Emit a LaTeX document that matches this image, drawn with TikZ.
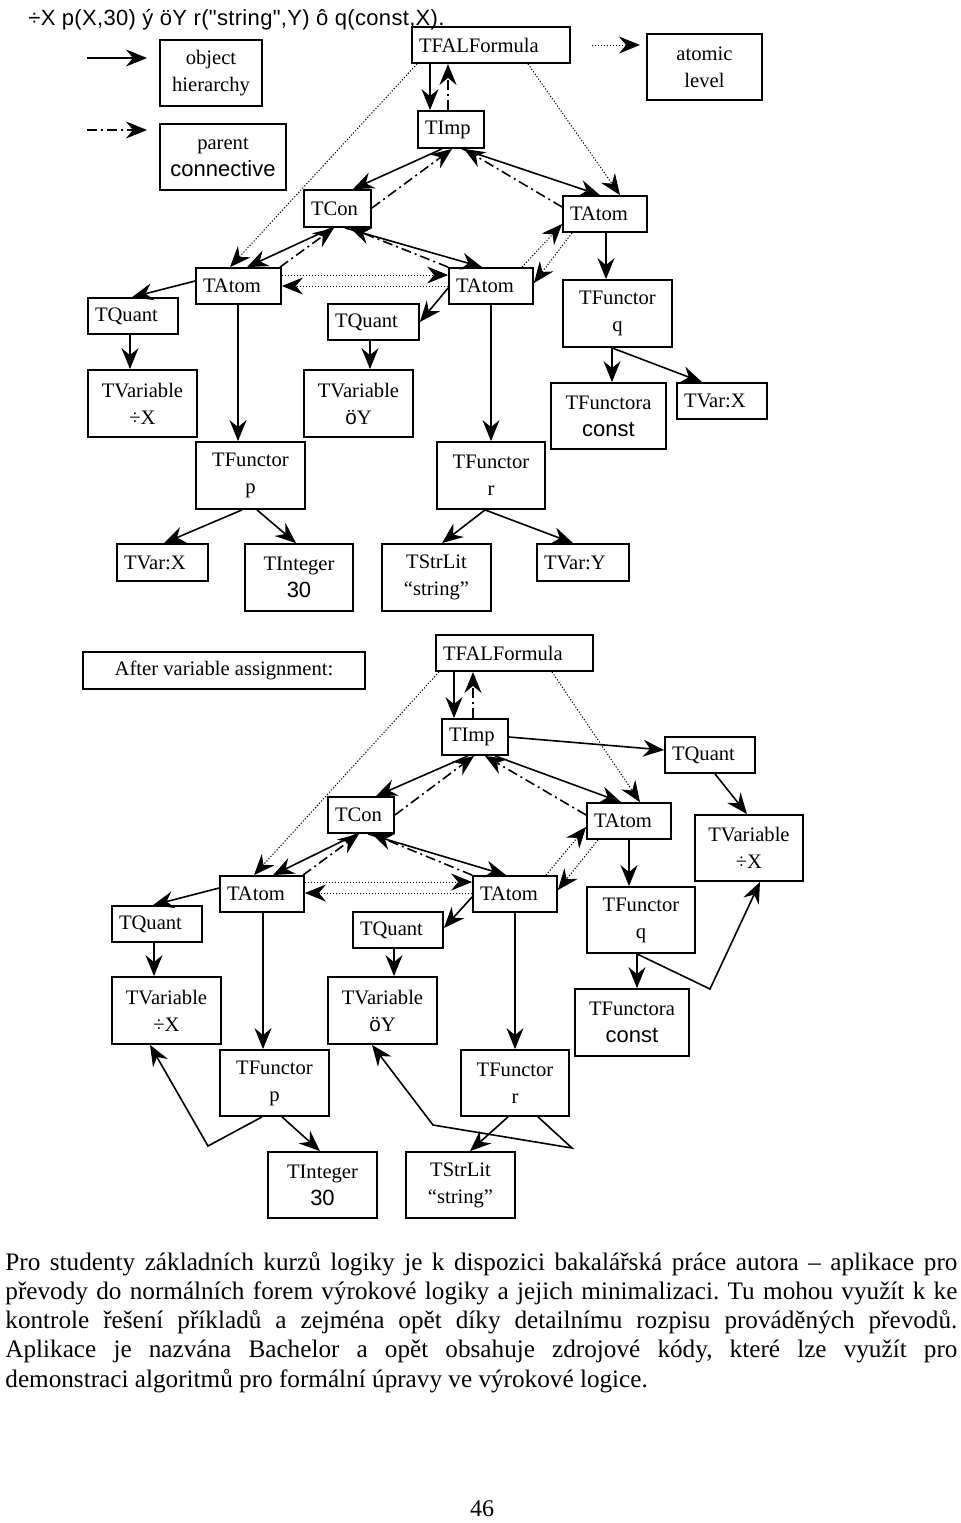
\documentclass[tikz,border=0pt]{standalone}
\usepackage{fontspec}
\setmainfont{Liberation Serif}
\setsansfont{Liberation Sans}
\newfontfamily\hdrfont{Liberation Sans}[LetterSpace=1.5]
\usetikzlibrary{arrows.meta}
\newcommand\bxfont{\fontsize{10.3}{13.5}\selectfont}
\newcommand\svt[1]{{\sffamily\fontsize{11}{13.5}\selectfont #1}}
\newcommand\cbx[6]{\node[bx,minimum width={0.5pt*(#3-#1)},minimum height={0.5pt*(#4-#2)}] (#5) at ({(#1+#3)/2},{(#2+#4)/2}) {#6};}
\newcommand\lbx[6]{\node[bx,minimum width={0.5pt*(#3-#1)},minimum height={0.5pt*(#4-#2)}] (#5) at ({(#1+#3)/2},{(#2+#4)/2}) {\makebox[\dimexpr 1pt*(#3-#1)/2-1pt\relax][l]{\hspace{3pt}#6}};}
\newcommand\bodyfont{\fontsize{12.6}{14.5}\selectfont\frenchspacing}
\tikzset{
 bx/.style={draw, line width=0.9pt, inner sep=0pt, font=\bxfont, align=center},
 arr/.style={-{Stealth[length=10.5pt,width=8.5pt,inset=3.5pt]}},
 sol/.style={arr, line width=0.8pt},
 ddot/.style={arr, line width=0.8pt, dash pattern=on 5pt off 2pt on 1pt off 2pt},
 dott/.style={arr, line width=0.5pt, dash pattern=on 0.6pt off 0.9pt},
 bline/.style={anchor=base west, inner sep=0pt, font=\bodyfont},
}
\begin{document}
\begin{tikzpicture}[x=0.5pt,y=-0.5pt]
\useasboundingbox (0,0) rectangle (960,1523);
% header
\node[anchor=base west, inner sep=0pt, font=\hdrfont\fontsize{11}{12}\selectfont] (hdr) at (28,25) {÷X p(X,30) ý öY r("string",Y) ô q(const,X).};
% legend
\coordinate (la1) at (87,58); \coordinate (la2) at (147,58);
\coordinate (lb1) at (87,130); \coordinate (lb2) at (147,130);
\coordinate (lc1) at (592,45); \coordinate (lc2) at (640,45);
\draw[sol] (la1) -- (la2);
\draw[ddot] (lb1) -- (lb2);
\draw[dott] (lc1) -- (lc2);
\cbx{160}{40}{262}{106}{obj}{object\\hierarchy}
\cbx{160}{124}{286}{190}{par}{parent\\\svt{connective}}
\cbx{647}{34}{762}{100}{atl}{atomic\\level}
% top diagram boxes
\lbx{412}{27}{570}{63}{tfal}{TFALFormula}
\lbx{418}{111}{484}{148}{timp}{TImp}
\lbx{563}{196}{647}{232}{tatomA}{TAtom}
\lbx{304}{190}{371}{227}{tcon}{TCon}
\lbx{196}{268}{281}{304}{tatomL}{TAtom}
\lbx{449}{268}{533}{304}{tatomM}{TAtom}
\lbx{88}{298}{178}{334}{tquantL}{TQuant}
\lbx{328}{304}{419}{340}{tquantM}{TQuant}
\cbx{88}{370}{197}{437}{tvarX}{TVariable\\÷X}
\cbx{304}{370}{413}{437}{tvarY}{TVariable\\{\sffamily ö}Y}
\cbx{196}{442}{305}{509}{tfp}{TFunctor\\p}
\cbx{437}{442}{545}{509}{tfr}{TFunctor\\r}
\cbx{563}{280}{672}{347}{tfq}{TFunctor\\q}
\cbx{551}{383}{666}{449}{tfconst}{TFunctora\\\svt{const}}
\lbx{677}{383}{767}{419}{tvXa}{TVar:X}
\lbx{117}{544}{208}{581}{tvXb}{TVar:X}
\cbx{245}{544}{353}{611}{tint}{TInteger\\\svt{30}}
\cbx{382}{544}{491}{611}{tstr}{TStrLit\\“string”}
\lbx{537}{544}{629}{581}{tvY}{TVar:Y}
% top diagram edges
\draw[sol] (tfal.south -| 430,0) -- (timp.north -| 430,0);
\draw[ddot] (timp.north -| 448,0) -- (tfal.south -| 448,0);
\draw[sol] (timp.south -| 442,0) -- (tcon.north -| 353,0);
\draw[ddot] (tcon.east |- 0,208) -- (timp.south -| 452,0);
\draw[sol] (timp.south -| 462,0) -- (tatomA.north -| 600,0);
\draw[ddot] (tatomA.west |- 0,207) -- (timp.south -| 464,0);
\draw[dott] (tfal.south -| 528,0) -- (tatomA.north -| 620,0);
\draw[dott] (tfal.south -| 417,0) -- (tatomL.north -| 230,0);
\draw[sol] (tcon.south -| 332,0) -- (tatomL.north -| 247,0);
\draw[ddot] (tatomL.north -| 280,0) -- (tcon.south -| 334,0);
\draw[sol] (tcon.south -| 345,0) -- (tatomM.north -| 482,0);
\draw[ddot] (tatomM.north west) -- (tcon.south -| 350,0);
\draw[dott] (tatomL.east |- 0,275) -- (tatomM.west |- 0,275);
\draw[dott] (tatomM.west |- 0,286) -- (tatomL.east |- 0,286);
\draw[dott] (tatomM.north -| 522,0) -- (tatomA.west |- 0,224);
\draw[dott] (tatomA.south -| 572,0) -- (tatomM.east |- 0,283);
\draw[sol] (tatomA.south -| 606,0) -- (tfq.north -| 606,0);
\draw[sol] (tfq.south -| 612,0) -- (tfconst.north -| 612,0);
\draw[sol] (tfq.south -| 612,0) -- (tvXa.north -| 702,0);
\draw[sol] (tatomL.west |- 0,281) -- (tquantL.north -| 132,0);
\draw[sol] (tquantL.south -| 130,0) -- (tvarX.north -| 130,0);
\draw[sol] (tatomL.south -| 238,0) -- (tfp.north -| 238,0);
\draw[sol] (tatomM.west |- 0,288) -- (tquantM.east |- 0,322);
\draw[sol] (tquantM.south -| 370,0) -- (tvarY.north -| 370,0);
\draw[sol] (tatomM.south -| 491,0) -- (tfr.north -| 491,0);
\draw[sol] (tfp.south -| 242,0) -- (tvXb.north -| 164,0);
\draw[sol] (tfp.south -| 257,0) -- (tint.north -| 296,0);
\draw[sol] (tfr.south -| 485,0) -- (tstr.north -| 442,0);
\draw[sol] (tfr.south -| 485,0) -- (tvY.north -| 573,0);
% lower diagram boxes
\cbx{83}{652}{365}{689}{after}{After variable assignment:}
\lbx{436}{635}{593}{671}{tfalb}{TFALFormula}
\lbx{442}{719}{508}{755}{timpb}{TImp}
\lbx{665}{737}{755}{773}{tquantR}{TQuant}
\lbx{328}{797}{394}{833}{tconb}{TCon}
\lbx{587}{803}{671}{839}{tatomRb}{TAtom}
\cbx{695}{815}{803}{881}{tvarXR}{TVariable\\÷X}
\lbx{220}{876}{304}{912}{tatomLb}{TAtom}
\lbx{473}{876}{557}{912}{tatomMb}{TAtom}
\lbx{112}{906}{202}{942}{tquantLb}{TQuant}
\lbx{353}{912}{443}{948}{tquantMb}{TQuant}
\cbx{112}{977}{221}{1044}{tvarXb}{TVariable\\÷X}
\cbx{328}{977}{437}{1044}{tvarYb}{TVariable\\{\sffamily ö}Y}
\cbx{220}{1050}{329}{1116}{tfpb}{TFunctor\\p}
\cbx{461}{1050}{569}{1116}{tfrb}{TFunctor\\r}
\cbx{587}{887}{695}{953}{tfqb}{TFunctor\\q}
\cbx{575}{989}{689}{1056}{tfconstb}{TFunctora\\\svt{const}}
\cbx{268}{1152}{377}{1218}{tintb}{TInteger\\\svt{30}}
\cbx{406}{1152}{515}{1218}{tstrb}{TStrLit\\“string”}
% lower diagram edges
\draw[sol] (tfalb.south -| 454,0) -- (timpb.north -| 454,0);
\draw[ddot] (timpb.north -| 473,0) -- (tfalb.south -| 473,0);
\draw[dott] (tfalb.south -| 439,0) -- (tatomLb.north -| 254,0);
\draw[dott] (tfalb.south -| 552,0) -- (tatomRb.north -| 640,0);
\draw[sol] (timpb.east |- 0,737) -- (tquantR.west |- 0,750);
\draw[sol] (tquantR.south -| 715,0) -- (tvarXR.north -| 747,0);
\draw[sol] (timpb.south -| 468,0) -- (tconb.north -| 376,0);
\draw[ddot] (tconb.east |- 0,815) -- (timpb.south -| 474,0);
\draw[sol] (timpb.south -| 495,0) -- (tatomRb.north -| 621,0);
\draw[ddot] (tatomRb.west |- 0,815) -- (timpb.south -| 485,0);
\draw[sol] (tconb.south -| 357,0) -- (tatomLb.north -| 273,0);
\draw[ddot] (tatomLb.north -| 303,0) -- (tconb.south -| 359,0);
\draw[sol] (tconb.south -| 368,0) -- (tatomMb.north -| 506,0);
\draw[ddot] (tatomMb.north west) -- (tconb.south -| 372,0);
\draw[dott] (tatomLb.east |- 0,882) -- (tatomMb.west |- 0,882);
\draw[dott] (tatomMb.west |- 0,893) -- (tatomLb.east |- 0,893);
\draw[dott] (tatomMb.north -| 546,0) -- (tatomRb.west |- 0,827);
\draw[dott] (tatomRb.south -| 598,0) -- (tatomMb.east |- 0,890);
\draw[sol] (tatomLb.west |- 0,888) -- (tquantLb.north -| 153,0);
\draw[sol] (tquantLb.south -| 154,0) -- (tvarXb.north -| 154,0);
\draw[sol] (tatomLb.south -| 263,0) -- (tfpb.north -| 263,0);
\draw[sol] (tatomMb.west |- 0,897) -- (tquantMb.east |- 0,928);
\draw[sol] (tquantMb.south -| 394,0) -- (tvarYb.north -| 394,0);
\draw[sol] (tatomMb.south -| 515,0) -- (tfrb.north -| 515,0);
\draw[sol] (tatomRb.south -| 629,0) -- (tfqb.north -| 629,0);
\draw[sol] (tfqb.south -| 637,0) -- (tfconstb.north -| 637,0);
\coordinate (bq) at (710,989);
\draw[sol] (tfqb.south -| 637,0) -- (bq) -- (tvarXR.south -| 760,0);
\coordinate (bp) at (208,1146);
\draw[sol] (tfpb.south -| 262,0) -- (bp) -- (tvarXb.south -| 150,0);
\draw[sol] (tfpb.south -| 282,0) -- (tintb.north -| 320,0);
\draw[sol] (tfrb.south -| 508,0) -- (tstrb.north -| 470,0);
\coordinate (br1) at (572,1148); \coordinate (br2) at (433,1125);
\draw[sol] (tfrb.south -| 538,0) -- (br1) -- (br2) -- (tvarYb.south -| 372,0);
% body text
\node[bline] (l1) at (5,1270) {\makebox[476pt][s]{Pro studenty základních kurzů logiky je k dispozici bakalářská práce autora – aplikace pro}};
\node[bline] (l2) at (5,1299.3) {\makebox[476pt][s]{převody do normálních forem výrokové logiky a jejich minimalizaci. Tu mohou využít k ke}};
\node[bline] (l3) at (5,1328.6) {\makebox[476pt][s]{kontrole řešení příkladů a zejména opět díky detailnímu rozpisu prováděných převodů.}};
\node[bline] (l4) at (5,1357.9) {\makebox[476pt][s]{Aplikace je nazvána Bachelor a opět obsahuje zdrojové kódy, které lze využít pro}};
\node[bline] (l5) at (5,1387.2) {demonstraci algoritmů pro formální úpravy ve výrokové logice.};
\node[font=\fontsize{12}{14}\selectfont, inner sep=0pt] (pg) at (482,1509) {46};
\end{tikzpicture}
\end{document}
